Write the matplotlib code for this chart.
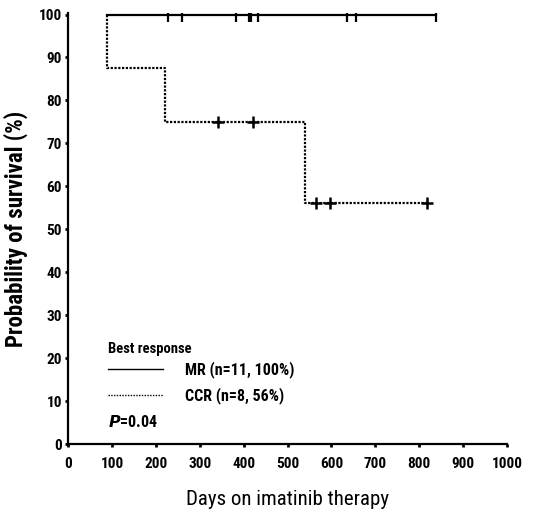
"""
Kaplan-Meier style survival by best response on imatinib.
"""
import matplotlib.pyplot as plt
from matplotlib import font_manager
import numpy as np

# narrow face if one is installed, otherwise plain DejaVu
installed = {f.name for f in font_manager.fontManager.ttflist}
narrow = [n for n in ["Liberation Sans Narrow", "DejaVu Sans Condensed", "Roboto Condensed",
                      "Open Sans Condensed"] if n in installed]
plt.rcParams['font.family'] = narrow[:1] + ['DejaVu Sans']
stretch = "normal" if narrow else "condensed"

# step curves (days, survival %)
mr_days = [88, 839]
mr_surv = [100, 100]
mr_censor_days = [228, 260, 382, 411, 417, 432, 635, 656, 839]

ccr_days = [88, 88, 221, 540, 819]
ccr_surv = [100, 87.5, 75, 56.25, 56.25]
ccr_censor_days = [342, 421, 564, 596, 819]

x_ticks = list(range(0, 1001, 100))
y_ticks = list(range(0, 101, 10))


def surv_at(days, surv, t):
    idx = np.searchsorted(days, t, side="right") - 1
    return surv[idx]


fig = plt.figure(figsize=(5.33, 5.14), dpi=100)
ax = fig.add_axes([0.128, 0.1356, 0.823, 0.8395])

ax.step(mr_days, mr_surv, where="post", color="black", lw=1.6)
ax.step(ccr_days, ccr_surv, where="post", color="black", lw=1.6,
        linestyle=(0, (1, 0.7)))

ax.plot(mr_censor_days, [surv_at(mr_days, mr_surv, t) for t in mr_censor_days],
        linestyle="none", marker="|", ms=10, mew=1.6, color="black")
ax.plot(ccr_censor_days, [surv_at(ccr_days, ccr_surv, t) for t in ccr_censor_days],
        linestyle="none", marker="+", ms=8.5, mew=1.8, color="black")

ax.set_xlim(0, 1000)
ax.set_ylim(0, 100.4)
ax.set_xticks(x_ticks)
ax.set_yticks(y_ticks)
ax.tick_params(axis="both", length=2.5, width=2, labelsize=11, pad=2)
for lbl in ax.get_xticklabels() + ax.get_yticklabels():
    lbl.set_fontweight("black")
    lbl.set_fontstretch(stretch)
ax.tick_params(axis="x", pad=7)

for side in ["top", "right"]:
    ax.spines[side].set_visible(False)
for side in ["left", "bottom"]:
    ax.spines[side].set_linewidth(1.6)

ax.set_ylabel("Probability of survival (%)", fontsize=16.5, fontweight="black",
              fontstretch=stretch, labelpad=8)
ax.set_xlabel("Days on imatinib therapy", fontsize=15, fontstretch=stretch, labelpad=13)

# legend block drawn by hand
ax.text(0.090, 0.222, "Best response", transform=ax.transAxes, fontsize=10.5,
        fontweight="black", fontstretch=stretch, va="center")
ax.plot([0.090, 0.215], [0.174, 0.174], transform=ax.transAxes, color="black", lw=1)
ax.plot([0.090, 0.215], [0.114, 0.114], transform=ax.transAxes, color="black", lw=1,
        linestyle=(0, (1, 1)))
ax.text(0.266, 0.174, "MR (n=11, 100%)", transform=ax.transAxes, fontsize=11.5,
        fontweight="black", fontstretch=stretch, va="center")
ax.text(0.266, 0.114, "CCR (n=8, 56%)", transform=ax.transAxes, fontsize=11.5,
        fontweight="black", fontstretch=stretch, va="center")
ax.text(0.090, 0.052, r"$\mathbfit{P}$=0.04", transform=ax.transAxes, fontsize=11.5,
        fontweight="black", fontstretch=stretch, va="center")

fig.savefig("out.png", dpi=100)
